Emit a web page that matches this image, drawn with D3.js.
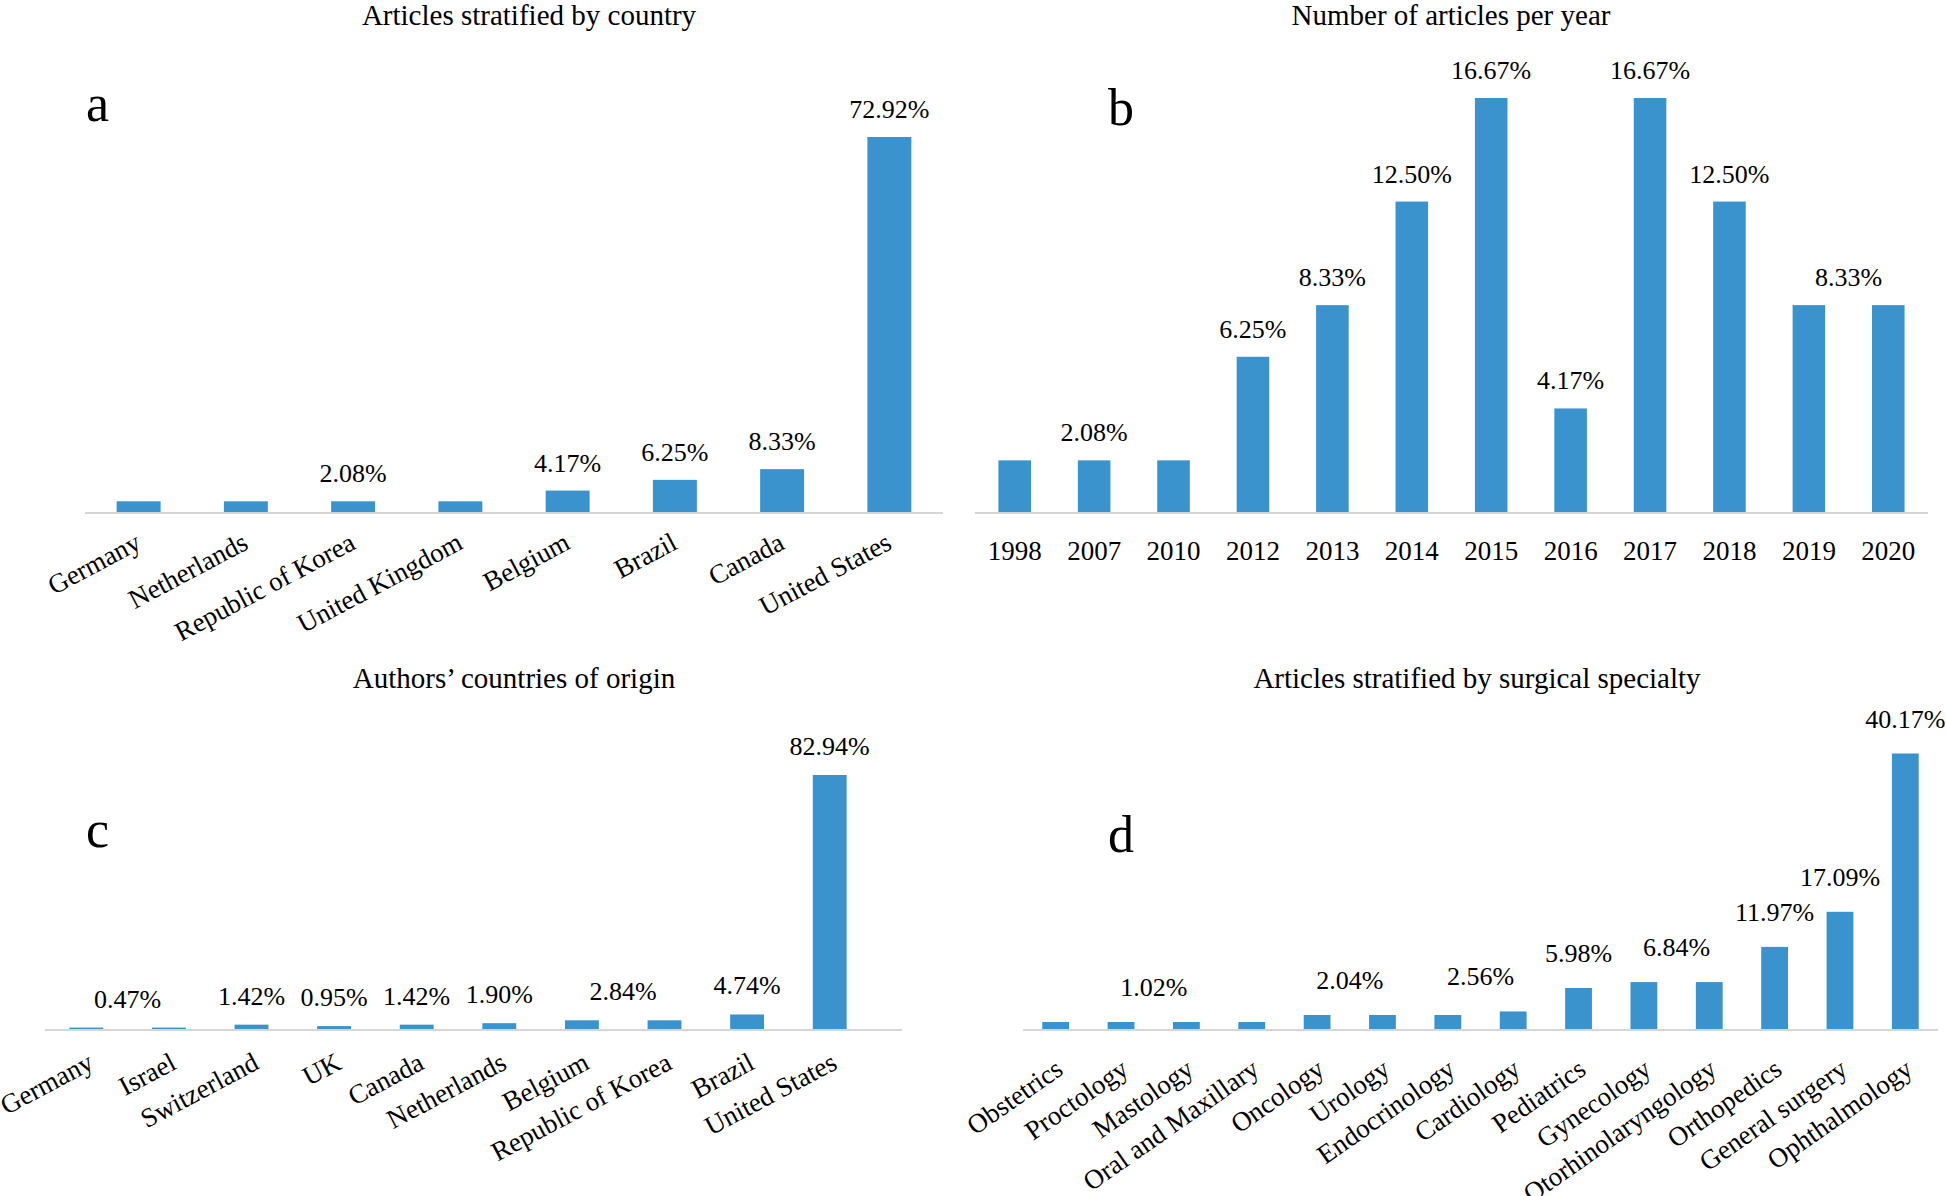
<!DOCTYPE html>
<html><head><meta charset="utf-8">
<script src="https://cdn.jsdelivr.net/npm/d3@7"></script>
<style>
html,body{margin:0;padding:0;background:#fff;}
svg{display:block;}
text{font-family:"Liberation Serif","Times New Roman",serif;fill:#000;}
</style>
</head><body>
<script>
// ---------- Data ----------
const countryCategories = ["Germany","Netherlands","Republic of Korea","United Kingdom","Belgium","Brazil","Canada","United States"];
const countryValues = [2.08,2.08,2.08,2.08,4.17,6.25,8.33,72.92];
const countryLabelGroups = [["Republic of Korea"],["Belgium"],["Brazil"],["Canada"],["United States"]];

const yearCategories = ["1998","2007","2010","2012","2013","2014","2015","2016","2017","2018","2019","2020"];
const yearValues = [2.08,2.08,2.08,6.25,8.33,12.50,16.67,4.17,16.67,12.50,8.33,8.33];
const yearLabelGroups = [["1998","2007","2010"],["2012"],["2013"],["2014"],["2015"],["2016"],["2017"],["2018"],["2019","2020"]];

const authorCategories = ["Germany","Israel","Switzerland","UK","Canada","Netherlands","Belgium","Republic of Korea","Brazil","United States"];
const authorValues = [0.47,0.47,1.42,0.95,1.42,1.90,2.84,2.84,4.74,82.94];
const authorLabelGroups = [["Germany","Israel"],["Switzerland"],["UK"],["Canada"],["Netherlands"],["Belgium","Republic of Korea"],["Brazil"],["United States"]];

const specialtyCategories = ["Obstetrics","Proctology","Mastology","Oral and Maxillary","Oncology","Urology","Endocrinology","Cardiology","Pediatrics","Gynecology","Otorhinolaryngology","Orthopedics","General surgery","Ophthalmology"];
const specialtyValues = [1.02,1.02,1.02,1.02,2.04,2.04,2.04,2.56,5.98,6.84,6.84,11.97,17.09,40.17];
const specialtyLabelGroups = [["Obstetrics","Proctology","Mastology","Oral and Maxillary"],["Oncology","Urology"],["Endocrinology","Cardiology"],["Pediatrics"],["Gynecology","Otorhinolaryngology"],["Orthopedics"],["General surgery"],["Ophthalmology"]];

const panelTitles = ["Articles stratified by country","Number of articles per year","Authors\u2019 countries of origin","Articles stratified by surgical specialty"];
const panelLetters = ["a","b","c","d"];

// ---------- Layout ----------
const W = 1946, H = 1196;
const FONT = "'Liberation Serif','Times New Roman',serif";
const BAR = "#3A93CD";
const layouts = [
  {x0:85,  x1:943,  axisEnd:943,  base:512,  top:137,   titleX:529,  titleY:25,  letterX:86,   letterY:121, rotate:-28, tdx:4, tdy:36,   labelOff:19},
  {x0:975, x1:1928, axisEnd:1928, base:512,  top:98,    titleX:1451, titleY:25,  letterX:1108, letterY:125, rotate:0,   tdx:0, tdy:47.5, labelOff:19},
  {x0:45,  x1:871,  axisEnd:902,  base:1029, top:775,   titleX:514,  titleY:688, letterX:86,   letterY:847, rotate:-28, tdx:9, tdy:39,   labelOff:20},
  {x0:1023,x1:1938, axisEnd:1938, base:1029, top:753.5, titleX:1477, titleY:688, letterX:1108, letterY:852, rotate:-35, tdx:9, tdy:44,   labelOff:26}
];

const svg = d3.select("body").append("svg").attr("width", W).attr("height", H);
svg.append("rect").attr("width", W).attr("height", H).attr("fill", "#fff");

function panel(cats, vals, groups, title, letter, L) {
  const g = svg.append("g");
  const x = d3.scaleBand().domain(cats).range([L.x0, L.x1]).paddingInner(0.59).paddingOuter(0.295);
  const y = d3.scaleLinear().domain([0, d3.max(vals)]).range([L.base, L.top]);
  const data = cats.map((c, i) => ({c, v: vals[i]}));

  g.append("line").attr("x1", L.x0).attr("x2", L.axisEnd).attr("y1", L.base + 1).attr("y2", L.base + 1)
    .attr("stroke", "#d6d6d6").attr("stroke-width", 2);

  g.selectAll("rect.bar").data(data).join("rect").attr("class", "bar")
    .attr("x", d => x(d.c)).attr("width", x.bandwidth())
    .attr("y", d => y(d.v)).attr("height", d => L.base - y(d.v))
    .attr("fill", BAR);

  const ax = g.append("g").attr("transform", `translate(0,${L.base})`)
    .call(d3.axisBottom(x).tickSize(0));
  ax.select(".domain").remove();
  ax.attr("font-family", FONT).attr("font-size", 27);
  const tt = ax.selectAll("text").attr("y", 0).attr("dy", 0).attr("fill", "#000");
  if (L.rotate) {
    tt.attr("text-anchor", "end").attr("transform", `translate(${L.tdx},${L.tdy}) rotate(${L.rotate})`);
  } else {
    tt.attr("text-anchor", "middle").attr("transform", `translate(0,${L.tdy})`);
  }

  const fmt = d3.format(".2f");
  groups.forEach(gr => {
    const vmax = d3.max(gr, c => vals[cats.indexOf(c)]);
    const cx = d3.mean(gr, c => x(c) + x.bandwidth() / 2);
    g.append("text").attr("x", cx).attr("y", y(vmax) - L.labelOff)
      .attr("text-anchor", "middle").attr("font-size", 26).text(fmt(vmax) + "%");
  });

  g.append("text").attr("x", L.titleX).attr("y", L.titleY).attr("text-anchor", "middle")
    .attr("font-size", 29).text(title);
  g.append("text").attr("x", L.letterX).attr("y", L.letterY).attr("text-anchor", "start")
    .attr("font-size", 52).text(letter);
}

panel(countryCategories, countryValues, countryLabelGroups, panelTitles[0], panelLetters[0], layouts[0]);
panel(yearCategories, yearValues, yearLabelGroups, panelTitles[1], panelLetters[1], layouts[1]);
panel(authorCategories, authorValues, authorLabelGroups, panelTitles[2], panelLetters[2], layouts[2]);
panel(specialtyCategories, specialtyValues, specialtyLabelGroups, panelTitles[3], panelLetters[3], layouts[3]);
</script>
</body></html>
